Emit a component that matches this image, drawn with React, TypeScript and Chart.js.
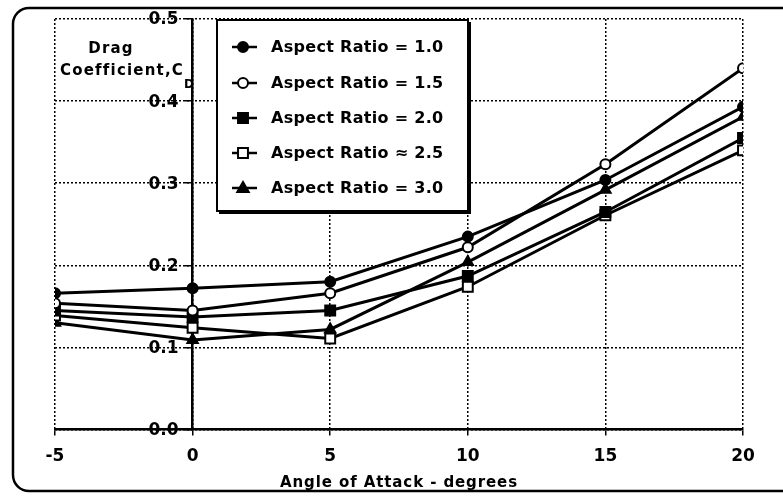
import React, { useEffect, useRef } from "react";
import { Chart, registerables } from "chart.js";

Chart.register(...registerables);

const angles = [-5, 0, 5, 10, 15, 20];
const seriesNames = [
  "Aspect Ratio = 1.0",
  "Aspect Ratio = 1.5",
  "Aspect Ratio = 2.0",
  "Aspect Ratio ≈ 2.5",
  "Aspect Ratio = 3.0",
];
const ar10 = [0.166, 0.172, 0.18, 0.235, 0.304, 0.393];
const ar15 = [0.154, 0.145, 0.166, 0.222, 0.323, 0.44];
const ar20 = [0.145, 0.137, 0.145, 0.187, 0.265, 0.355];
const ar25 = [0.139, 0.124, 0.111, 0.174, 0.261, 0.34];
const ar30 = [0.13, 0.109, 0.122, 0.204, 0.292, 0.381];
const seriesValues = [ar10, ar15, ar20, ar25, ar30];
const markerStyles = ["circle", "circle", "rect", "rect", "triangle"];
const markerFilled = [true, false, true, false, true];
const markerRadius = [5, 5, 7, 7, 6];
const yTicks = [0, 0.1, 0.2, 0.3, 0.4, 0.5];
const xTitle = "Angle of Attack - degrees";
const yTitleLines = ["Drag", "Coefficient,C"];
const yTitleSub = "D";

const FONT = "'DejaVu Sans', sans-serif";

function drawMarker(ctx: CanvasRenderingContext2D, style: string, x: number, y: number, r: number, filled: boolean) {
  ctx.save();
  ctx.beginPath();
  if (style === "circle") {
    ctx.arc(x, y, r, 0, Math.PI * 2);
  } else if (style === "rect") {
    const s = r * Math.SQRT1_2;
    ctx.rect(x - s, y - s, 2 * s, 2 * s);
  } else {
    ctx.moveTo(x, y - r);
    ctx.lineTo(x + r * 0.95, y + r * 0.65);
    ctx.lineTo(x - r * 0.95, y + r * 0.65);
    ctx.closePath();
  }
  ctx.fillStyle = filled ? "#000" : "#fff";
  ctx.fill();
  ctx.lineWidth = 2;
  ctx.strokeStyle = "#000";
  ctx.stroke();
  ctx.restore();
}

const decorPlugin = {
  id: "decor",
  afterDraw(chart: any) {
    const ctx: any = chart.ctx;
    const xs = chart.scales.x;
    const ys = chart.scales.y;
    ctx.save();
    // outer rounded frame
    ctx.lineWidth = 2.5;
    ctx.strokeStyle = "#000";
    ctx.beginPath();
    ctx.roundRect(13, 8, 820, 483, 16);
    ctx.stroke();

    ctx.fillStyle = "#000";
    // y tick labels, left of the x=0 axis
    ctx.font = `bold 17px ${FONT}`;
    ctx.letterSpacing = "0px";
    ctx.textAlign = "right";
    ctx.textBaseline = "middle";
    const axisX = xs.getPixelForValue(0);
    yTicks.forEach((v) => {
      ctx.fillText(v.toFixed(1), axisX - 14, ys.getPixelForValue(v) + 1);
    });

    // x-axis title
    ctx.font = `bold 15px ${FONT}`;
    ctx.letterSpacing = "0.9px";
    ctx.textAlign = "center";
    ctx.fillText(xTitle, (chart.chartArea.left + chart.chartArea.right) / 2, 483);

    // y-axis title
    ctx.font = `bold 15px ${FONT}`;
    ctx.letterSpacing = "1.2px";
    ctx.textAlign = "center";
    ctx.fillText(yTitleLines[0], 111, 49);
    ctx.textAlign = "left";
    ctx.fillText(yTitleLines[1], 60, 71);
    const w = ctx.measureText(yTitleLines[1]).width;
    ctx.font = `bold 12px ${FONT}`;
    ctx.letterSpacing = "0px";
    ctx.fillText(yTitleSub, 60 + w, 85);

    // legend box
    const L = 217, T = 20, R = 468, B = 211;
    ctx.fillStyle = "#fff";
    ctx.fillRect(L, T, R - L, B - T);
    ctx.lineWidth = 2;
    ctx.strokeRect(L, T, R - L, B - T);
    ctx.lineWidth = 3;
    ctx.beginPath();
    ctx.moveTo(R + 1.5, T + 2);
    ctx.lineTo(R + 1.5, B + 1.5);
    ctx.lineTo(L + 2, B + 1.5);
    ctx.stroke();

    const rows = [47, 83, 118, 153, 188];
    seriesNames.forEach((name, i) => {
      const y = rows[i];
      ctx.lineWidth = 2.5;
      ctx.strokeStyle = "#000";
      ctx.beginPath();
      ctx.moveTo(232, y);
      ctx.lineTo(257, y);
      ctx.stroke();
      drawMarker(ctx, markerStyles[i], 243, y, markerRadius[i], markerFilled[i]);
      ctx.fillStyle = "#000";
      ctx.font = `bold 16px ${FONT}`;
      ctx.letterSpacing = "0.3px";
      ctx.textAlign = "left";
      ctx.textBaseline = "middle";
      ctx.fillText(name, 271, y + 1);
    });
    ctx.restore();
  },
};

export default function App() {
  const ref = useRef<HTMLCanvasElement | null>(null);
  useEffect(() => {
    if (!ref.current) return;
    const datasets = seriesNames.map((name, i) => ({
      label: name,
      data: angles.map((a, j) => ({ x: a, y: seriesValues[i][j] })),
      borderColor: "#000",
      borderWidth: 3,
      pointStyle: markerStyles[i] as any,
      pointRadius: markerRadius[i],
      pointBorderWidth: 2,
      pointBorderColor: "#000",
      pointBackgroundColor: markerFilled[i] ? "#000" : "#fff",
      tension: 0,
    }));
    const chart = new Chart(ref.current, {
      type: "line",
      data: { datasets },
      options: {
        animation: false,
        responsive: false,
        maintainAspectRatio: false,
        layout: { padding: { left: 55, right: 40, top: 19, bottom: 18 } },
        plugins: { legend: { display: false }, tooltip: { enabled: false } },
        scales: {
          x: {
            type: "linear",
            min: -5,
            max: 20,
            ticks: {
              stepSize: 5,
              color: "#000",
              font: { family: FONT, size: 17, weight: "bold" },
              padding: 11,
            },
            grid: {
              color: "#000",
              lineWidth: 1.5,
              tickLength: 6,
            } as any,
            border: { display: true, color: "#000", width: 2.5, dash: [2, 2] },
          },
          y: {
            type: "linear",
            position: { x: 0 } as any,
            min: 0,
            max: 0.5,
            afterBuildTicks: (axis: any) => {
              axis.ticks = yTicks.map((v) => ({ value: v }));
            },
            ticks: { display: false },
            grid: {
              color: "#000",
              lineWidth: 1.5,
              tickLength: 6,
            } as any,
            border: { display: true, color: "#000", width: 2.5, dash: [2, 2] },
          },
        },
      },
      plugins: [decorPlugin],
    });
    return () => chart.destroy();
  }, []);
  return (
    <div style={{ position: "fixed", left: 0, top: 0, width: 783, height: 496, background: "#fff" }}>
      <canvas ref={ref} width={783} height={496} />
    </div>
  );
}
